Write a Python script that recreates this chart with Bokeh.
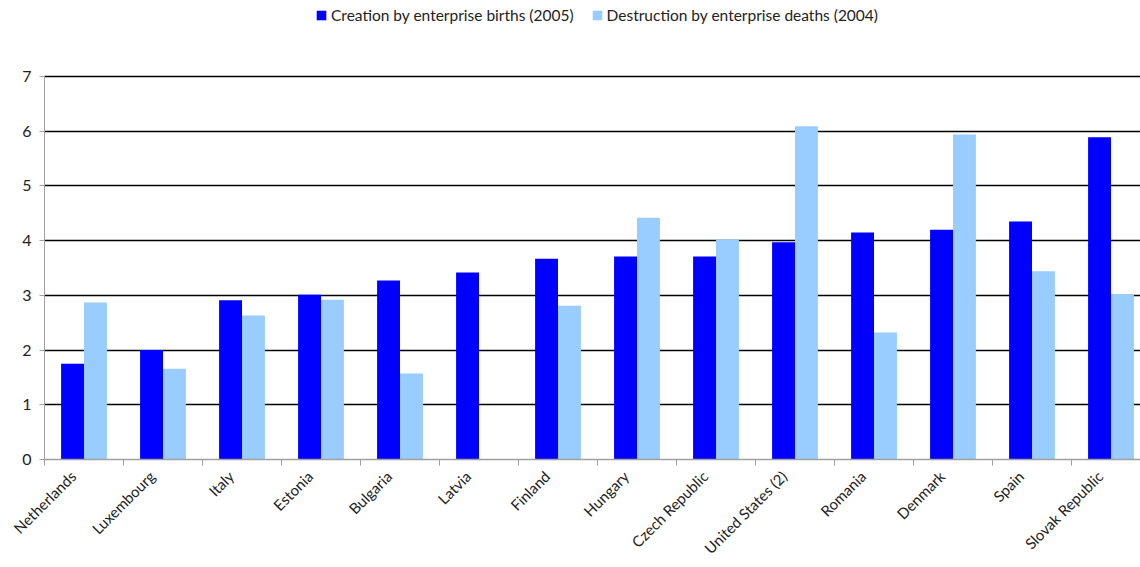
import math
from bokeh.plotting import figure
from bokeh.models import (Range1d, FixedTicker, Legend, LegendItem, ColumnDataSource,
                          LinearAxis, Grid)
from bokeh.embed import file_html
from bokeh.resources import INLINE

countries = ["Netherlands", "Luxembourg", "Italy", "Estonia", "Bulgaria", "Latvia",
             "Finland", "Hungary", "Czech Republic", "United States (2)", "Romania",
             "Denmark", "Spain", "Slovak Republic"]
births = [1.75, 2.00, 2.91, 3.01, 3.27, 3.42, 3.67, 3.71, 3.71, 3.97, 4.15, 4.20, 4.35, 5.89]
deaths = [2.87, 1.66, 2.63, 2.92, 1.57, float("nan"), 2.81, 4.42, 4.02, 6.09, 2.32, 5.94, 3.44, 3.02]
y_ticks = [0, 1, 2, 3, 4, 5, 6, 7]
series_names = ["Creation by enterprise births (2005)", "Destruction by enterprise deaths (2004)"]

FONT = "Lato"
n = len(countries)
centers = [i + 0.5 for i in range(n)]
bw = 0.29
PX_X = 79.0           # pixels per category
PX_Y = 383.0 / 7      # pixels per unit
label_pos = [c - 11 / PX_X for c in centers]

src = ColumnDataSource(dict(
    xb=[c - bw / 2 for c in centers],
    xd=[c + bw / 2 for c in centers],
    births=births,
    deaths=deaths,
))

p = figure(width=1140, height=567, output_backend="svg", toolbar_location=None,
           x_range=Range1d(0, 1096 / PX_X), y_range=Range1d(0, 459 / PX_Y),
           min_border_left=44, min_border_right=0, min_border_top=0, min_border_bottom=108,
           x_axis_type=None, y_axis_type=None)
p.outline_line_color = None
p.background_fill_color = "white"
p.border_fill_color = "white"

xaxis = LinearAxis(ticker=FixedTicker(ticks=label_pos, minor_ticks=list(range(0, n + 1))))
xaxis.major_label_overrides = {lp: name for lp, name in zip(label_pos, countries)}
xaxis.major_label_orientation = math.pi / 4
xaxis.major_tick_line_color = None
xaxis.major_tick_out = 0
xaxis.major_tick_in = 0
xaxis.minor_tick_line_color = "#A0A0A0"
xaxis.minor_tick_out = 6
xaxis.minor_tick_in = 0
xaxis.axis_line_color = "#A0A0A0"
xaxis.axis_line_width = 1.3
xaxis.major_label_text_font = FONT
xaxis.major_label_text_font_size = "15px"
xaxis.major_label_text_color = "#222222"
xaxis.major_label_standoff = 8
p.add_layout(xaxis, "below")

yaxis = LinearAxis(ticker=FixedTicker(ticks=y_ticks))
yaxis.bounds = (0, 7)
yaxis.axis_line_color = "#A0A0A0"
yaxis.major_tick_line_color = "#A0A0A0"
yaxis.major_tick_out = 5
yaxis.major_tick_in = 0
yaxis.minor_tick_line_color = None
yaxis.major_label_text_font = FONT
yaxis.major_label_text_font_size = "16px"
yaxis.major_label_text_color = "#222222"
yaxis.major_label_standoff = 8
p.add_layout(yaxis, "left")

grid = Grid(dimension=1, ticker=FixedTicker(ticks=y_ticks[1:]))
grid.grid_line_color = "black"
grid.grid_line_width = 1.3
p.add_layout(grid)

r1 = p.vbar(x="xb", top="births", width=bw, bottom=0, source=src,
            fill_color="#0000FF", line_color=None)
r2 = p.vbar(x="xd", top="deaths", width=bw, bottom=0, source=src,
            fill_color="#99CCFF", line_color=None)

legend = Legend(items=[LegendItem(label=series_names[0], renderers=[r1]),
                       LegendItem(label=series_names[1], renderers=[r2])],
                location=(271, 434), orientation="horizontal")
legend.border_line_color = None
legend.background_fill_alpha = 0
legend.glyph_width = 12
legend.glyph_height = 12
legend.label_standoff = 4
legend.spacing = 17
legend.padding = 2
legend.margin = 0
legend.label_height = 20
legend.label_text_font = FONT
legend.label_text_font_size = "15.5px"
legend.label_text_color = "#222222"
p.add_layout(legend)

open("out.html", "w").write(file_html(p, INLINE))
